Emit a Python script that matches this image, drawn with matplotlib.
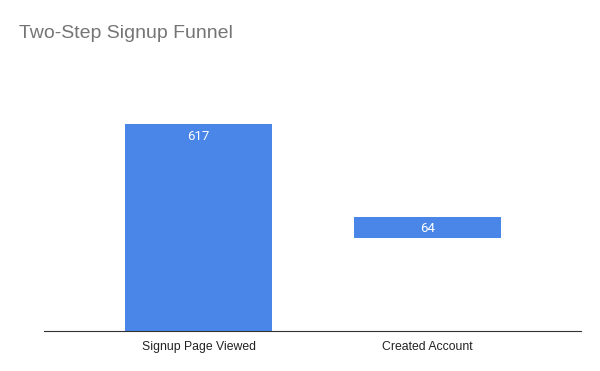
import matplotlib.pyplot as plt
import numpy as np

# funnel steps
steps = ['Signup Page Viewed', 'Created Account']
counts = [617, 64]

plt.rcParams['font.family'] = ['Liberation Sans', 'DejaVu Sans']

fig = plt.figure(figsize=(6, 3.71), dpi=100)
ax = fig.add_axes([44/600, 40/371, 537/600, 271/371])

x = np.arange(len(steps))
top = max(counts)
bottoms = [(top - c) / 2 for c in counts]
bars = ax.bar(x, counts, bottom=bottoms, width=0.64, color='#4a86e8')

for b, c in zip(bars, counts):
    ax.annotate(str(c), (b.get_x() + b.get_width() / 2, b.get_y() + b.get_height()),
                xytext=(0, -12), textcoords='offset pixels', ha='center', va='center',
                color='white', fontsize=9.5, family=['Roboto', 'DejaVu Sans'])

ax.set_xlim(-0.675, 1.67)
ax.set_ylim(0, top * (331 - 60) / (331 - 124))
ax.set_xticks(x)
ax.set_xticklabels(steps, fontsize=8.8, color='#222222')
ax.tick_params(axis='x', length=0, pad=7.5)
ax.set_yticks([])
for s in ['top', 'right', 'left']:
    ax.spines[s].set_visible(False)
ax.spines['bottom'].set_color('#333333')

fig.text(19/600, 1 - 38/371, 'Two-Step Signup Funnel', fontsize=14, color='#757575',
         ha='left', va='baseline')

plt.savefig('out.png')
